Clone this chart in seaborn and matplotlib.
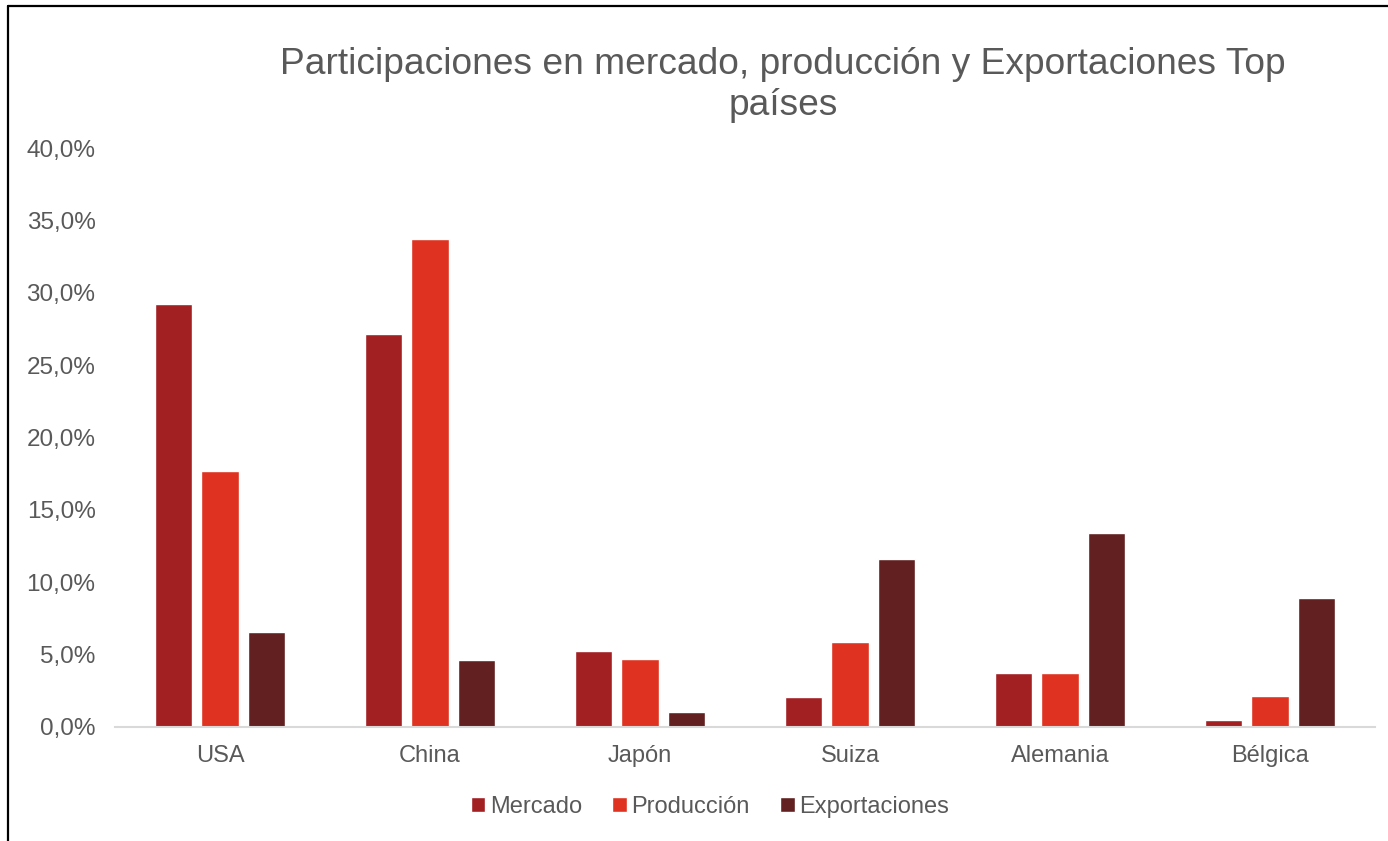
import matplotlib
matplotlib.use("Agg")
import matplotlib.pyplot as plt
import seaborn as sns
import pandas as pd
from matplotlib.lines import Line2D
from matplotlib.ticker import FuncFormatter

countries = ["USA", "China", "Japón", "Suiza", "Alemania", "Bélgica"]
series = ["Mercado", "Producción", "Exportaciones"]
mercado = [0.292, 0.2715, 0.0525, 0.0207, 0.0373, 0.0048]
produccion = [0.177, 0.337, 0.047, 0.0587, 0.0373, 0.0214]
exportaciones = [0.0656, 0.0463, 0.0104, 0.116, 0.134, 0.089]
colors = ["#A21F22", "#E03220", "#622020"]
yticks = [0.0, 0.05, 0.10, 0.15, 0.20, 0.25, 0.30, 0.35, 0.40]

df = pd.DataFrame({
    "País": countries * 3,
    "Serie": [s for s in series for _ in countries],
    "Valor": mercado + produccion + exportaciones,
})

sns.set_theme(style="white")
plt.rcParams["font.family"] = ["Liberation Sans", "DejaVu Sans"]
gray = "#595959"

fig = plt.figure(figsize=(13.88, 8.41), dpi=100)
ax = fig.add_axes([115 / 1388, 1 - 727 / 841, 1260 / 1388, (727 - 148) / 841])

sns.barplot(data=df, x="País", y="Valor", hue="Serie", order=countries,
            hue_order=series, palette=colors, width=0.664, gap=0.2,
            saturation=1, ax=ax, legend=True)

ax.set_ylim(0, 0.40)
ax.set_xlim(-0.5, len(countries) - 0.5)
ax.set_yticks(yticks)
ax.yaxis.set_major_formatter(FuncFormatter(lambda v, p: f"{v*100:.1f}%".replace(".", ",")))
ax.set_xlabel("")
ax.set_ylabel("")
ax.tick_params(axis="y", length=0, pad=14, labelsize=17.5, labelcolor=gray)
ax.tick_params(axis="x", length=0, pad=13, labelsize=17, labelcolor=gray)
for s in ["top", "right", "left"]:
    ax.spines[s].set_visible(False)
ax.spines["bottom"].set_color("#D9D9D9")
ax.spines["bottom"].set_linewidth(1.5)
ax.grid(False)

handles, labels = ax.get_legend_handles_labels()
ax.get_legend().remove()
fig.legend(handles, labels, loc="center", bbox_to_anchor=(710 / 1388, 1 - 807 / 841),
           ncol=3, frameon=False, fontsize=17, labelcolor=gray,
           handlelength=0.6, handleheight=0.6, handletextpad=0.2, columnspacing=1.3)

fig.text(783 / 1388, 1 - 85 / 841, "Participaciones en mercado, producción y Exportaciones Top\npaíses",
         ha="center", va="center", fontsize=26.7, color=gray, linespacing=1.2)

fig.add_artist(Line2D([8 / 1388, 8 / 1388], [0, 1 - 6 / 841], color="black", lw=1.6, transform=fig.transFigure))
fig.add_artist(Line2D([8 / 1388, 1], [1 - 6 / 841, 1 - 6 / 841], color="black", lw=1.6, transform=fig.transFigure))

fig.savefig("out.png", dpi=100)
